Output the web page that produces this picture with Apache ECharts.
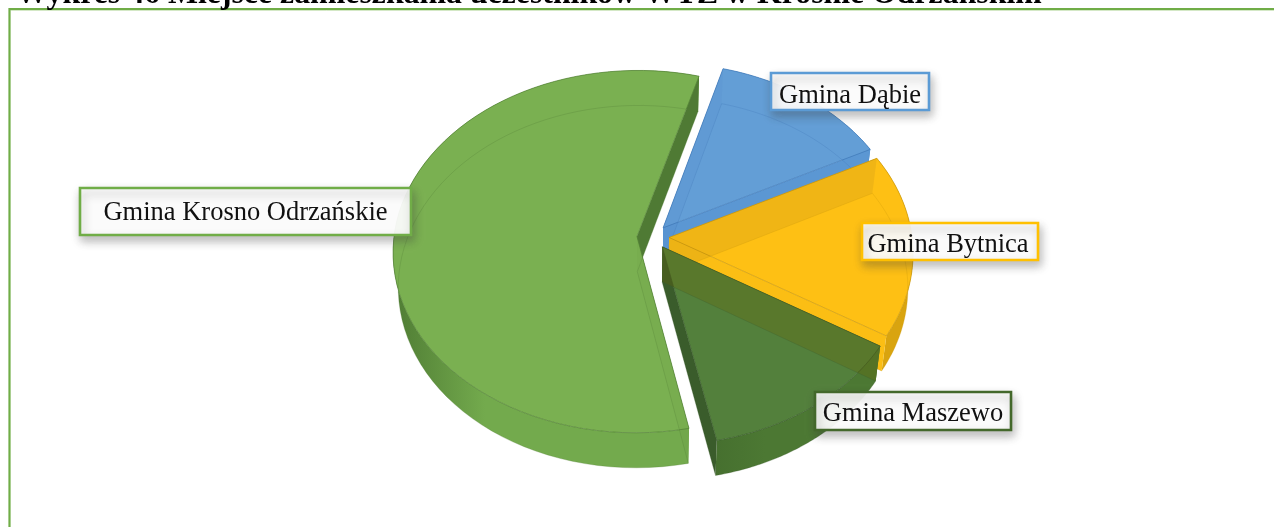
<!DOCTYPE html>
<html><head><meta charset="utf-8">
<style>html,body{margin:0;padding:0;background:#fff;overflow:hidden}#c{width:1274px;height:527px}</style>
<script src="https://cdn.jsdelivr.net/npm/echarts@6/dist/echarts.min.js"></script>
</head><body><div id="c"></div>
<script>
var categories = ['Gmina Dąbie','Gmina Bytnica','Gmina Maszewo','Gmina Krosno Odrzańskie'];
var values = [13.1, 16.3, 13, 57.6];
var colors = ['#639ed6','#fec014','#53803c','#7ab051'];
var lineColors = ['#3f78b8','#c9960c','#38592a','#517f35'];
var outerWallLeft = ['#4f8ccb','#d9a40f','#46702f','#4f7c34'];
var outerWallRight = ['#4f8ccb','#d9a40f','#4c7833','#73aa4d'];
var startWall = ['#5590cf','#e5ae10','#46702f','#73aa4d'];
var endWall = ['#5b97d3','#fbbe14','#3a5c2b','#4f7a34'];
var bandTint = ['rgba(50,100,170,0.05)','rgba(120,90,40,0.1)','rgba(110,95,0,0.26)','rgba(60,100,30,0.03)'];
var labelBorders = ['#5b9bd5','#ffc000','#43682b','#70ad47'];
var titleText = 'Wykres 46 Miejsce zamieszkania uczestników WTZ w Krośnie Odrzańskim';

var START = 15.7, CX = 653, CY = 237, RX = 243, RY = 180, PERSP = 0.083, EXPLODE = 0.066, DEPTH = 35, SHRINK = 0.98;
var labelBoxes = [[771,73,158,37],[862,223,176,37],[815,392,196,38],[80,188,331,47]];
var labelTextShift = [[0,5],[-2,4],[0,3],[0,2]];
var total = values.reduce(function(a,b){return a+b;},0);

function project(X,Y){var f=1/(1-PERSP*Y);return [CX+RX*X*f,CY+RY*Y*f];}
function under(p){return [CX+(p[0]-CX)*SHRINK,p[1]+DEPTH];}
function sliceAngles(i){var a=START;for(var k=0;k<i;k++)a+=values[k]/total*360;return [a,a+values[i]/total*360];}

function renderSlice(params,api){
  var i=params.dataIndex, v=api.value(0), a0=sliceAngles(i)[0], a1=a0+v/total*360;
  var mid=(a0+a1)/2*Math.PI/180, ex=EXPLODE*Math.sin(mid), ey=-EXPLODE*Math.cos(mid);
  var arc=[],N=72;
  for(var k=0;k<=N;k++){var t=(a0+(a1-a0)*k/N)*Math.PI/180;arc.push(project(ex+Math.sin(t),ey-Math.cos(t)));}
  var apex=project(ex,ey), top=[apex].concat(arc), low=top.map(under);
  var lowArc=arc.map(under);
  var c=colors[i], w=lineColors[i];
  var outer=arc.concat(lowArc.slice().reverse());
  var grad={type:'linear',x:0,y:0,x2:1,y2:0,colorStops:[{offset:0,color:outerWallLeft[i]},{offset:0.3,color:outerWallRight[i]},{offset:1,color:outerWallRight[i]}]};
  var els=[
    {type:'polygon',shape:{points:[arc[0],lowArc[0],low[0],apex]},style:{fill:startWall[i]}},
    {type:'polygon',shape:{points:outer},style:{fill:grad}},
    {type:'polygon',shape:{points:[arc[N],lowArc[N],low[0],apex]},style:{fill:endWall[i]}},
    {type:'polygon',shape:{points:top},style:{fill:c,stroke:w,lineWidth:0.7}},
    {type:'polygon',shape:{points:[arc[0],lowArc[0],low[0],apex]},style:{fill:bandTint[i]}},
    {type:'polyline',shape:{points:low.concat([low[0]])},style:{fill:'none',stroke:w,lineWidth:0.7,opacity:0.4}}
  ];
  return {type:'group',children:els};
}
function renderLabel(params,api){
  var i=params.dataIndex,b=labelBoxes[i],s=labelTextShift[i];
  return {type:'group',children:[
    {type:'rect',shape:{x:b[0],y:b[1],width:b[2],height:b[3]},style:{fill:'rgba(255,255,255,0.93)',stroke:labelBorders[i],lineWidth:2.6,shadowBlur:9,shadowOffsetX:2,shadowOffsetY:5,shadowColor:'rgba(60,60,60,0.35)'}},
    {type:'text',style:{x:b[0]+b[2]/2+s[0],y:b[1]+b[3]/2+s[1],text:categories[i],align:'center',verticalAlign:'middle',font:'26.5px "Liberation Serif"',fill:'#111'}}
  ]};
}
var data=values.map(function(v,i){return {name:categories[i],value:[v]};});
var chart=echarts.init(document.getElementById('c'),null,{renderer:'canvas'});
chart.setOption({
  animation:false,backgroundColor:'#fff',
  title:{text:titleText,left:11,top:-26,textStyle:{fontFamily:'Liberation Serif',fontWeight:'bold',fontSize:31.8,color:'#000'}},
  graphic:[
    {type:'polyline',z:1,shape:{points:[[1274,10],[10.5,10]]},style:{fill:'none',stroke:'#a9d18e',lineWidth:1}},
    {type:'polyline',z:1,shape:{points:[[9.5,527],[9.5,9],[1274,9]]},style:{fill:'none',stroke:'#70ad47',lineWidth:2.2}}
  ],
  series:[
    {type:'custom',coordinateSystem:'none',z:2,clip:false,data:data,renderItem:renderSlice,encode:{value:0}},
    {type:'custom',coordinateSystem:'none',z:3,clip:false,data:data,renderItem:renderLabel,encode:{value:0}}
  ]
});
</script></body></html>
